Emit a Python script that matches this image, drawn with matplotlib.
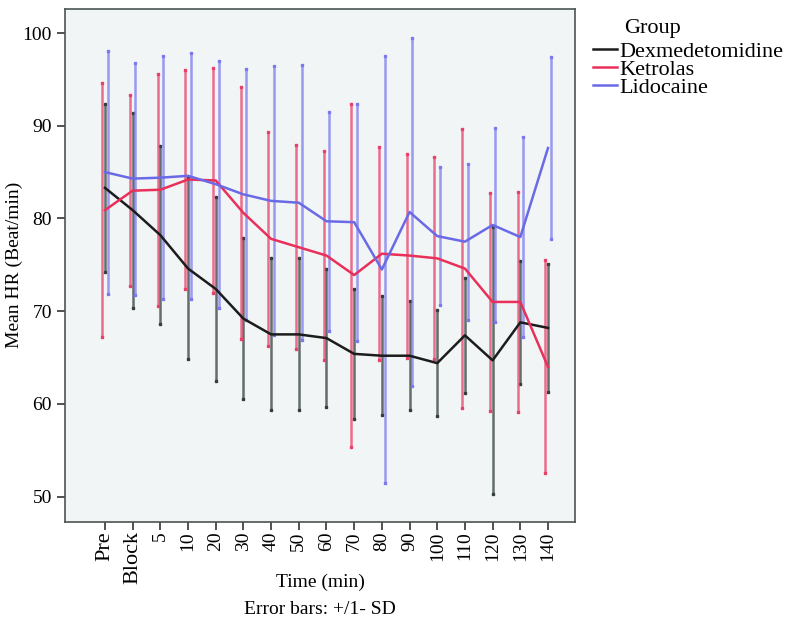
import matplotlib
matplotlib.use('Agg')
import numpy as np
import matplotlib.pyplot as plt

time_labels = ['Pre', 'Block', '5', '10', '20', '30', '40', '50', '60', '70',
               '80', '90', '100', '110', '120', '130', '140']

dex_mean = [83.3, 80.9, 78.2, 74.6, 72.4, 69.2, 67.5, 67.5, 67.1, 65.4,
            65.2, 65.2, 64.4, 67.4, 64.7, 68.8, 68.2]
dex_sd = [9.1, 10.5, 9.6, 9.8, 9.9, 8.7, 8.2, 8.2, 7.4, 7.0,
          6.4, 5.9, 5.7, 6.2, 14.4, 6.6, 6.9]

ket_mean = [80.9, 83.0, 83.1, 84.2, 84.1, 80.6, 77.8, 76.9, 76.0, 73.9,
            76.2, 76.0, 75.7, 74.6, 71.0, 71.0, 64.0]
ket_sd = [13.7, 10.3, 12.5, 11.8, 12.1, 13.6, 11.5, 11.0, 11.3, 18.5,
          11.5, 11.0, 10.9, 15.0, 11.8, 11.9, 11.5]

lid_mean = [85.0, 84.3, 84.4, 84.6, 83.7, 82.6, 81.9, 81.7, 79.7, 79.6,
            74.5, 80.7, 78.1, 77.5, 79.3, 78.0, 87.6]
lid_sd = [13.1, 12.5, 13.1, 13.3, 13.3, 13.5, 14.5, 14.8, 11.8, 12.8,
          23.0, 18.8, 7.4, 8.4, 10.5, 10.8, 9.8]

groups = ['Dexmedetomidine', 'Ketrolas', 'Lidocaine']
colors = ['#1c1c1c', '#e8305a', '#6a6ae6']
bar_colors = ['#34403b', '#e8406a', '#7a7aee']
offsets = [0.0, -0.1, 0.1]

plt.rcParams['font.family'] = ['Liberation Serif', 'DejaVu Serif']

fig = plt.figure(figsize=(7.94, 6.37), dpi=100)
ax = fig.add_axes([0.082, 0.181, 0.642, 0.805])
ax.set_facecolor('#f2f5f5')

x = np.arange(len(time_labels))
means = [dex_mean, ket_mean, lid_mean]
sds = [dex_sd, ket_sd, lid_sd]

# error bars first, then the mean lines on top
for m, s, bc, off in zip(means, sds, bar_colors, offsets):
    m = np.array(m)
    s = np.array(s)
    ax.vlines(x + off, m - s, m + s, color=bc, lw=1.8, alpha=0.75, zorder=2)
    ax.plot(x + off, m + s, ls='none', marker='s', ms=1.8, color=bc, zorder=2)
    ax.plot(x + off, m - s, ls='none', marker='s', ms=1.8, color=bc, zorder=2)

for m, c, g in zip(means, colors, groups):
    ax.plot(x, m, color=c, lw=1.8, label=g, zorder=3)

ax.set_xlim(-1.44, 16.97)
ax.set_ylim(47.3, 102.6)
ax.set_yticks([50, 60, 70, 80, 90, 100])
ax.set_xticks(x)
ax.set_xticklabels(time_labels, rotation=90, fontsize=14)
# word labels look wider than the digits in the original
for lbl in ax.get_xticklabels():
    if not lbl.get_text().isdigit():
        lbl.set_fontsize(16)
ax.tick_params(axis='y', labelsize=14, length=6, width=1.2, color='#333333')
ax.tick_params(axis='x', length=6, width=1.2, color='#333333', pad=1)
for sp in ax.spines.values():
    sp.set_color('#4a5550')
    sp.set_linewidth(1.2)

ax.set_ylabel('Mean HR (Beat/min)', fontsize=14)
ax.yaxis.set_label_coords(-0.082, 0.5)
fig.text(0.403, 1 - 582 / 637, 'Time (min)', ha='center', va='center', fontsize=14)
fig.text(0.403, 1 - 610 / 637, 'Error bars: +/1- SD', ha='center', va='center', fontsize=14)

fig.text(624 / 794, 1 - 29 / 637, 'Group', ha='left', va='center', fontsize=16)
leg = ax.legend(loc='upper left', bbox_to_anchor=(1.035, 0.937),
                frameon=False, fontsize=16,
                handlelength=1.1, handletextpad=0.1, labelspacing=-0.12,
                borderaxespad=0.0, borderpad=0.0)

fig.savefig('out.png', dpi=100)
